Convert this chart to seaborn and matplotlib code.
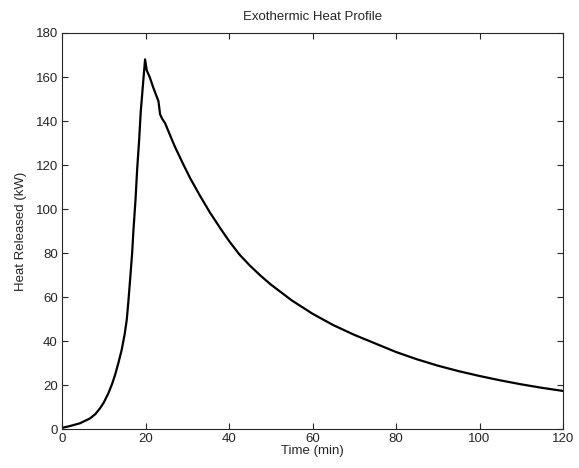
import matplotlib
matplotlib.use("Agg")
import matplotlib.pyplot as plt
import seaborn as sns
import pandas as pd

time_min = [0, 2, 4.3, 6.7, 8, 9.1, 10, 11.1, 12, 12.7, 13.5, 14.3, 15, 15.5, 15.9,
            16.4, 16.8, 17.1, 17.6, 18.0, 18.5, 18.85, 19.2, 19.5, 19.9,
            20.3, 21, 21.9, 22.5, 23.1, 23.5, 24, 24.7, 26, 27, 28, 29, 30.7, 33,
            35.4, 38, 40, 42.5, 45, 47.5, 50, 55, 60, 65, 70, 75, 80, 85, 90,
            95, 100, 105, 110, 115, 120]
heat_kw = [0.5, 1.4, 2.6, 4.8, 6.8, 9.4, 12, 16.2, 20.5, 24.5, 30, 36, 43, 49.5, 58,
           70, 80, 90, 104, 118, 132, 144, 152, 159, 168,
           163, 160, 155, 152, 149, 143, 141, 139, 133, 128.5, 124.5, 120.5, 114, 106.2,
           98.5, 91, 85.5, 79.3, 74.3, 69.8, 65.7, 58.5, 52.4, 47.2, 42.8, 38.9, 35.0, 31.7, 28.8,
           26.3, 24.1, 22.1, 20.3, 18.7, 17.3]
x_ticks = [0, 20, 40, 60, 80, 100, 120]
y_ticks = [0, 20, 40, 60, 80, 100, 120, 140, 160, 180]

df = pd.DataFrame({"t": time_min, "q": heat_kw})

sns.set_style("ticks")
plt.rcParams["font.family"] = ["Liberation Sans", "DejaVu Sans"]

fs = 9.5
fig = plt.figure(figsize=(5.79, 4.68), dpi=100)
ax = fig.add_axes([62/579, 39/468, 501/579, 396/468])
sns.lineplot(data=df, x="t", y="q", ax=ax, color="black", linewidth=1.6)
ax.set_xlim(0, 120)
ax.set_ylim(0, 180)
ax.set_xticks(x_ticks)
ax.set_yticks(y_ticks)
ax.tick_params(direction="in", top=True, right=True, labelsize=fs, length=4, width=0.8, pad=3)
for s in ax.spines.values():
    s.set_visible(True)
    s.set_linewidth(0.8)
ax.set_xlabel("Time (min)", fontsize=fs, labelpad=0)
ax.set_ylabel("Heat Released (kW)", fontsize=fs, labelpad=6)
ax.set_title("Exothermic Heat Profile", fontsize=fs, pad=9)
fig.savefig("out.png", dpi=100)
